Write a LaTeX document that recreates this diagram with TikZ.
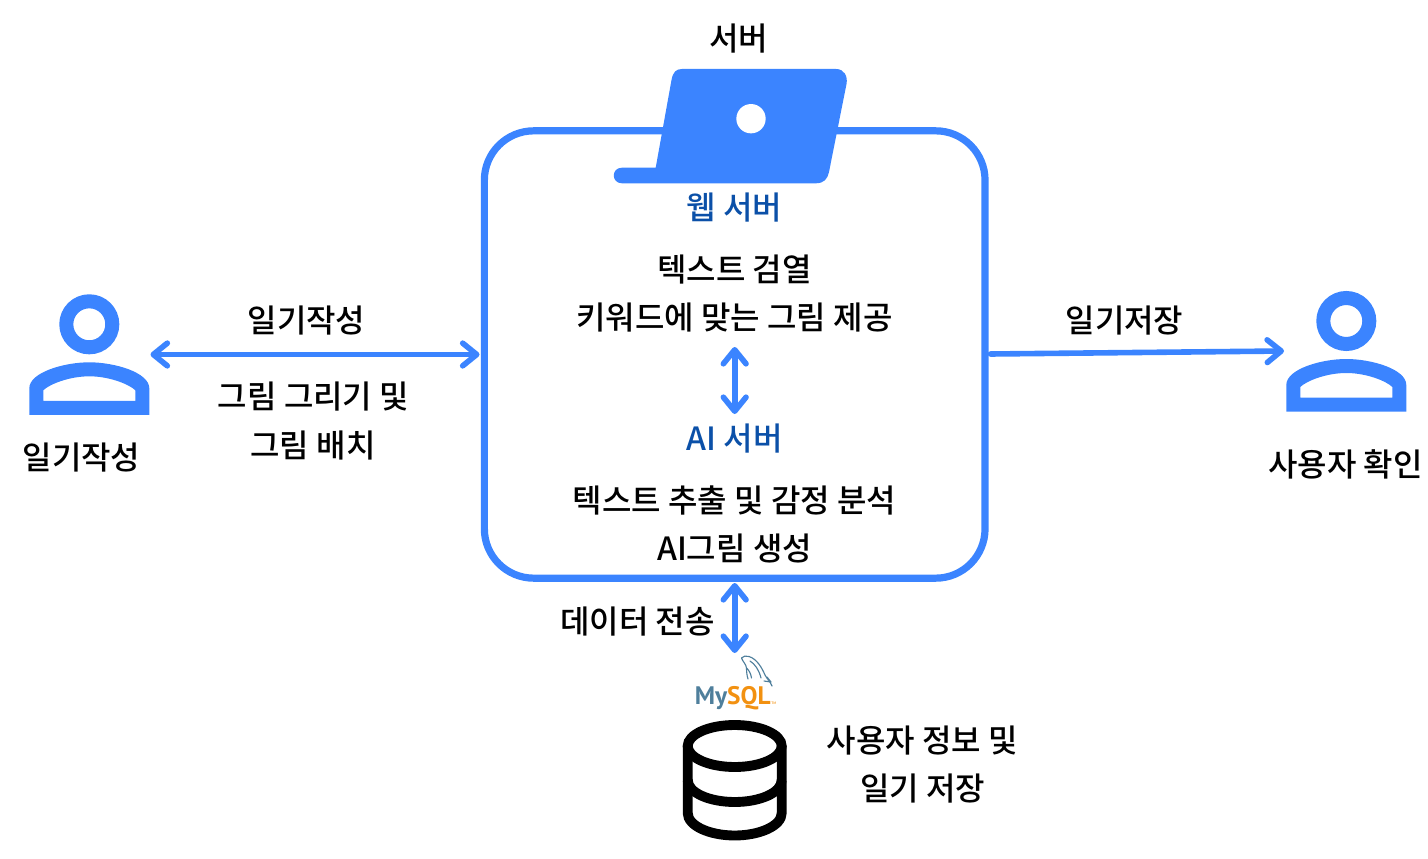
\documentclass[tikz,border=0pt]{standalone}
\usepackage{fontspec}
\setmainfont{Noto Sans CJK KR Medium}
\newfontfamily\logofont{PT Sans}
\usetikzlibrary{arrows.meta}
\definecolor{mainblue}{HTML}{3B84FF}
\definecolor{darkblue}{HTML}{0B50A8}
\definecolor{dolphin}{HTML}{4F7F9C}
\definecolor{myorange}{HTML}{F29111}
\tikzset{
  x=0.75pt,y=-0.75pt,
  lbl/.style={font=\fontsize{24}{27}\selectfont,inner sep=0pt,text=black},
  bluelbl/.style={lbl,text=darkblue},
  conn/.style={draw=mainblue,line width=4.2pt,line cap=round,line join=round},
  tips/.style={conn,{Straight Barb[length=10.5pt,width=17pt,line cap=round,line join=round]}-{Straight Barb[length=10.5pt,width=17pt,line cap=round,line join=round]}},
  tipr/.style={conn,-{Straight Barb[length=10.5pt,width=17pt,line cap=round,line join=round]}},
}
\newcommand{\personicon}[2]{%
  \begin{scope}[shift={(#1,#2)}]
    \draw[mainblue,line width=10.5pt] (0,0) circle (23);
    \fill[mainblue,even odd rule]
      (-60,90.5) -- (-60,64) .. controls (-60,48) and (-25,38) .. (0,38)
      .. controls (25,38) and (60,48) .. (60,64) -- (60,90.5) -- cycle
      (-46,76.5) -- (-46,66) .. controls (-40,60) and (-20,52) .. (0,52)
      .. controls (20,52) and (40,60) .. (46,66) -- (46,76.5) -- cycle;
  \end{scope}}
\begin{document}
\begin{tikzpicture}
\useasboundingbox (0,0) rectangle (1428,859);

% main box
\node[draw=mainblue,line width=5.4pt,rounded corners=37pt,minimum width=375.5pt,minimum height=335.5pt,inner sep=0pt] (box) at (734.7,354.5) {};

% laptop
\fill[mainblue] (682,69) -- (836,69) .. controls (844,69) and (848,76) .. (846.5,84)
  -- (829,172) .. controls (827.5,179) and (824,183.3) .. (816,183.3)
  -- (622,183.3) .. controls (611,183.3) and (611,167.7) .. (622,167.7)
  -- (655.7,167.7) -- (671.5,80) .. controls (673,72) and (676,69) .. (682,69) -- cycle;
\node[circle,fill=white,minimum size=22pt,inner sep=0pt] (lens) at (751,118.7) {};

% persons
\personicon{89.3}{324.3}
\personicon{1346.3}{321}

% database
\begin{scope}[draw=black,line width=7.4pt]
  \draw (734.7,746) ellipse (47 and 21);
  \draw (687.7,746) -- (687.7,813) .. controls (687.7,826) and (710,835.5) .. (734.7,835.5)
     .. controls (759.4,835.5) and (781.7,826) .. (781.7,813) -- (781.7,746);
  \draw (687.7,780) .. controls (687.7,793) and (710,802) .. (734.7,802)
     .. controls (759.4,802) and (781.7,793) .. (781.7,780);
\end{scope}

% mysql logo
\node[inner sep=0pt,anchor=base west,font=\fontsize{19}{20}\selectfont\logofont\bfseries] (mysql) at (694.5,704.5)
  {\textcolor{dolphin}{My}\textcolor{myorange}{SQL}};
\node[inner sep=0pt,anchor=base west,font=\fontsize{2.5}{3}\selectfont,text=myorange] (tm) at (771,704) {TM};
\draw[dolphin,line width=0.85pt,line join=round,line cap=round]
  (741.5,658) .. controls (743,656) and (746,655.5) .. (749,656.5)
  .. controls (757,659) and (762,668) .. (765,675)
  .. controls (767,679) and (770,681) .. (772,686)
  (741.5,658) .. controls (743,662) and (746,664) .. (746.5,668)
  .. controls (746.5,672) and (747,676) .. (748,679)
  (746.5,668) .. controls (749,670) and (751,674) .. (751.5,678)
  (750,661) .. controls (755,664) and (759,670) .. (761,678)
  (764,681) -- (771,682)
  (767,677) -- (771,682);

% connectors
\coordinate (lA) at (150.5,354.5);
\coordinate (lB) at (479.5,354.5);
\coordinate (rA) at (990.5,354);
\coordinate (rB) at (1284,351);
\coordinate (vA) at (734.7,347);
\coordinate (vB) at (734.7,414);
\coordinate (dA) at (734.7,583);
\coordinate (dB) at (734.7,653);
\draw[tips] (lA) -- (lB);
\draw[tipr] (rA) -- (rB);
\draw[tips] (vA) -- (vB);
\draw[tips] (dA) -- (dB);

% labels
\node[lbl] (t1) at (738.5,39) {서버};
\node[bluelbl] (t2) at (734.5,208) {웹 서버};
\node[lbl] (t3) at (734.5,270) {텍스트 검열};
\node[lbl] (t4) at (734.5,318) {키워드에 맞는 그림 제공};
\node[bluelbl] (t5) at (734.5,439) {AI 서버};
\node[lbl] (t6) at (734.5,500) {텍스트 추출 및 감정 분석};
\node[lbl] (t7) at (734.5,548) {AI그림 생성};
\node[lbl] (t8) at (637.5,622) {데이터 전송};
\node[lbl] (t9) at (922.5,741) {사용자 정보 및};
\node[lbl] (t10) at (922.5,789) {일기 저장};
\node[lbl] (t11) at (306.5,321) {일기작성};
\node[lbl] (t12) at (313.5,397) {그림 그리기 및};
\node[lbl] (t13) at (313,445) {그림 배치};
\node[lbl] (t14) at (81.5,458) {일기작성};
\node[lbl] (t15) at (1124.5,321) {일기저장};
\node[lbl] (t16) at (1345.5,464) {사용자 확인};
\end{tikzpicture}
\end{document}
